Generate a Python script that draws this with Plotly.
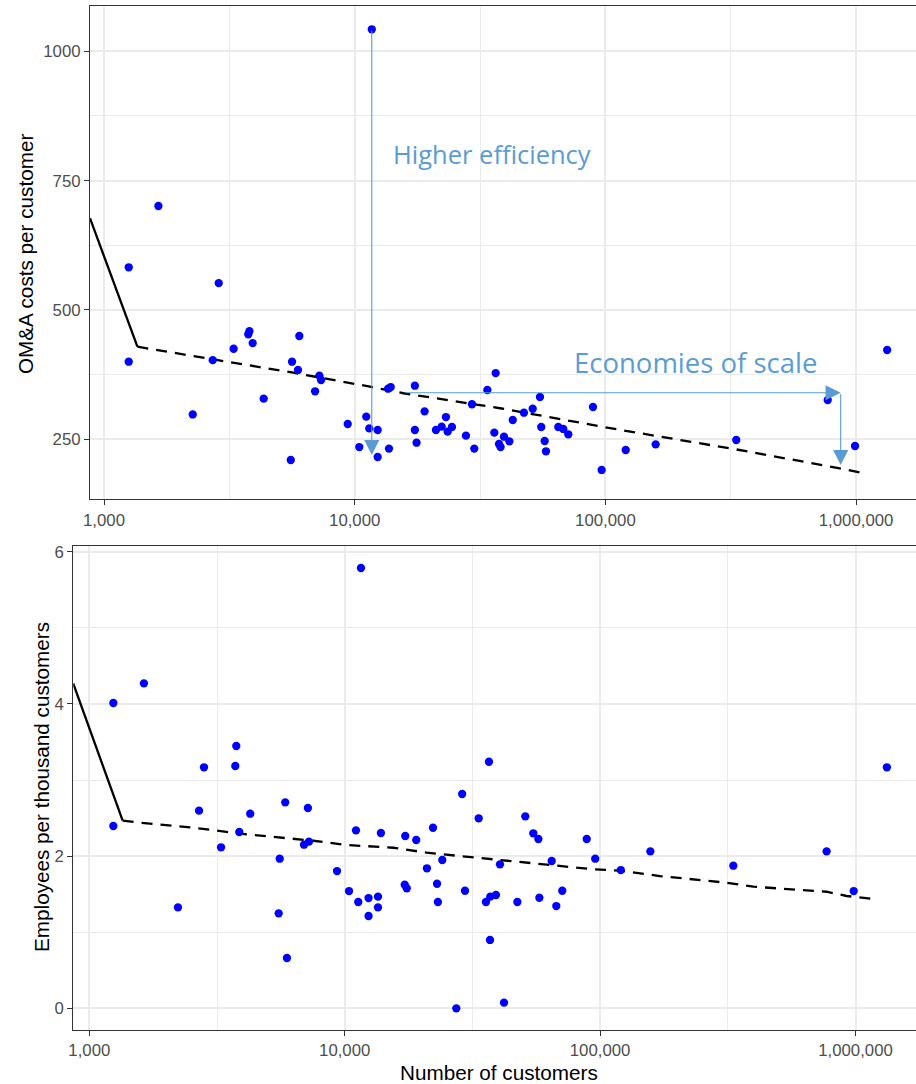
import numpy as np
import plotly.graph_objects as go

# ---------------- Data ----------------
# Top panel: OM&A costs per customer
top_customers = [1255, 1255, 1648, 2259, 2714, 2868, 3289, 3763, 3802, 3918,
                 4335, 5559, 5624, 5940, 6013, 6950, 7228, 7343, 9380, 10430,
                 11120, 11430, 11700, 12350, 12350, 13590, 13700, 13920, 17380, 17380,
                 17650, 19000, 21090, 22230, 23120, 23480, 24430, 27780, 29370, 29990,
                 33820, 36050, 36500, 37640, 38190, 39400, 41400, 42700, 47320, 51290,
                 54830, 55480, 57250, 57930, 64880, 67920, 71120, 89230, 96600, 120500,
                 158700, 332600, 770500, 990000, 1330000]
top_costs = [582.5, 400, 701, 298, 403, 552, 425, 453, 459, 436,
             328.5, 210, 400, 384, 449.7, 342.8, 373, 364.6, 279.6, 235,
             293.7, 271, 1042.6, 268, 215.8, 347.8, 232, 351, 353.6, 268,
             243.4, 304, 268, 274.4, 293, 264.7, 273.8, 257, 317.7, 232,
             345.3, 262.8, 378, 241, 235, 255, 246, 287.3, 301.4, 309,
             331.8, 273.8, 246.7, 226.8, 273.8, 270, 259.7, 312.4, 190.7, 229.3,
             240.3, 248.6, 326, 237, 422.6]

# Bottom panel: employees per thousand customers
bot_customers = [1242, 1242, 1636, 2224, 2689, 2812, 3280, 3730, 3763, 3866,
                 4266, 5514, 5566, 5850, 5941, 6929, 7176, 7245, 9330, 10400,
                 11070, 11300, 11580, 12400, 12400, 13500, 13500, 13860, 17180, 17260,
                 17500, 19060, 20990, 22170, 22990, 23170, 24110, 27350, 28840, 29580,
                 33470, 35730, 36720, 37060, 37150, 39100, 40540, 42050, 47430, 50950,
                 54760, 57330, 57840, 64640, 67380, 71100, 88630, 95700, 120500, 157300,
                 332400, 770800, 984000, 1327000]
bot_employees = [4.012, 2.396, 4.27, 1.327, 2.597, 3.167, 2.116, 3.184, 3.447, 2.317,
                 2.557, 1.248, 1.966, 2.707, 0.661, 2.15, 2.632, 2.19, 1.804, 1.541,
                 2.339, 1.397, 5.786, 1.449, 1.213, 1.467, 1.327, 2.304, 1.624, 2.264,
                 1.577, 2.212, 1.84, 2.373, 1.637, 1.397, 1.949, 0.0, 2.816, 1.545,
                 2.497, 1.397, 3.24, 0.898, 1.467, 1.489, 1.892, 0.074, 1.397, 2.523,
                 2.3, 2.225, 1.453, 1.936, 1.344, 1.545, 2.225, 1.966, 1.817, 2.063,
                 1.874, 2.063, 1.541, 3.167]

# Fitted lines (solid below break, dashed above)
top_solid_x = [879, 1359]
top_solid_y = [677.5, 429]
top_dash_x = [1359, 2993, 5690, 11510, 15630, 38000, 95000, 111000, 330000, 860000, 1101000]
top_dash_y = [429, 401.4, 378.7, 351.7, 339, 310, 274.4, 269.3, 230.7, 194, 183]

bot_solid_x = [865, 1351]
bot_solid_y = [4.27, 2.465]
bot_dash_x = [1351, 1579, 2478, 3346, 4130, 7535, 10190, 15490, 20940, 40550, 63700,
              94100, 119700, 171600, 313300, 398600, 770400, 923800, 1211000]
bot_dash_y = [2.465, 2.439, 2.378, 2.32, 2.286, 2.202, 2.146, 2.11, 2.045, 1.949, 1.883,
              1.827, 1.808, 1.738, 1.65, 1.598, 1.532, 1.476, 1.432]

x_tickvals = [1000, 10000, 100000, 1000000]
x_ticktext = ["1,000", "10,000", "100,000", "1,000,000"]
x_minor = [3162.28, 31622.8, 316228]
top_yticks = [250, 500, 750, 1000]
top_yminor = [375, 625, 875]
bot_yticks = [0, 2, 4, 6]
bot_yminor = [1, 3, 5]

# Annotation anchors (data space)
eff_x, eff_top, eff_tip = 11700, 1042.6, 219.6
eos_x0, eos_y, eos_x1, eos_tip = 15730, 340, 868000, 200.3
eff_label = ("Higher efficiency", 13950, 801.5)
eos_label = ("Economies of scale", 73800, 397.5)

# ---------------- Styles ----------------
W, H = 916, 1084
BLUE = "#0000FF"
ANN = "#5B9BD5"
GRID = "#EBEBEB"
AXC = "#333333"
TICKC = "#4D4D4D"
FONT = "Liberation Sans, Arial, sans-serif"
ANNFONT = "Open Sans, sans-serif"

fig = go.Figure()

def add_panel(xa, ya, cx, cy, sx, sy, dx, dy):
    fig.add_trace(go.Scatter(x=sx, y=sy, mode="lines", xaxis=xa, yaxis=ya,
                             line=dict(color="black", width=2.3), hoverinfo="skip"))
    fig.add_trace(go.Scatter(x=dx, y=dy, mode="lines", xaxis=xa, yaxis=ya,
                             line=dict(color="black", width=2.3, dash="11px,8px"), hoverinfo="skip"))
    fig.add_trace(go.Scatter(x=cx, y=cy, mode="markers", xaxis=xa, yaxis=ya,
                             marker=dict(color=BLUE, size=8.3, line=dict(width=0))))

add_panel("x", "y", top_customers, top_costs, top_solid_x, top_solid_y, top_dash_x, top_dash_y)
add_panel("x2", "y2", bot_customers, bot_employees, bot_solid_x, bot_solid_y, bot_dash_x, bot_dash_y)

def xaxis_cfg(domain, rng, anchor):
    return dict(type="log", domain=domain, range=rng, anchor=anchor, automargin=False,
                tickvals=x_tickvals, ticktext=x_ticktext,
                showgrid=True, gridcolor=GRID, gridwidth=1.5,
                minor=dict(tickvals=x_minor, showgrid=True, gridcolor=GRID, gridwidth=0.9, ticks=""),
                showline=True, linecolor=AXC, linewidth=1.1, mirror=True,
                ticks="outside", ticklen=5, tickwidth=1.1, tickcolor=AXC,
                tickfont=dict(family=FONT, size=16.8, color=TICKC), zeroline=False)

def yaxis_cfg(domain, rng, anchor, tv, minor):
    return dict(domain=domain, range=rng, anchor=anchor, automargin=False,
                tickvals=tv, ticktext=[str(v) for v in tv],
                showgrid=True, gridcolor=GRID, gridwidth=1.5,
                minor=dict(tickvals=minor, showgrid=True, gridcolor=GRID, gridwidth=0.9, ticks=""),
                showline=True, linecolor=AXC, linewidth=1.1, mirror=False,
                ticks="outside", ticklen=5, tickwidth=1.1, tickcolor=AXC,
                tickfont=dict(family=FONT, size=16.8, color=TICKC), zeroline=False)

top_dom_x = [90 / W, 1.0]
top_dom_y = [1 - 499.3 / H, 1 - 6 / H]
bot_dom_x = [73.3 / W, 1.0]
bot_dom_y = [1 - 1030 / H, 1 - 545.7 / H]

fig.update_layout(
    width=W, height=H, margin=dict(l=0, r=0, t=0, b=0, pad=0, autoexpand=False),
    paper_bgcolor="white", plot_bgcolor="white", showlegend=False,
    xaxis=xaxis_cfg(top_dom_x, [2.94416, 6.23893], "y"),
    yaxis=yaxis_cfg(top_dom_y, [134.0, 1087.6], "x", top_yticks, top_yminor),
    xaxis2=xaxis_cfg(bot_dom_x, [2.93735, 6.2369], "y2"),
    yaxis2=yaxis_cfg(bot_dom_y, [-0.285, 6.079], "x2", bot_yticks, bot_yminor),
)

L = np.log10
arrow_common = dict(text="", showarrow=True, arrowhead=2, arrowsize=2.75, arrowwidth=1.1,
                    arrowcolor=ANN, standoff=0, xref="x", yref="y", axref="x", ayref="y")
annotations = [
    dict(x=L(eff_x), y=eff_tip, ax=L(eff_x), ay=eff_top, **arrow_common),
    dict(x=L(eos_x1), y=eos_y, ax=L(eos_x0), ay=eos_y, **arrow_common),
    dict(x=L(eos_x1), y=eos_tip, ax=L(eos_x1), ay=eos_y, **arrow_common),
    dict(text=eff_label[0], x=L(eff_label[1]), y=eff_label[2], xref="x", yref="y",
         showarrow=False, xanchor="left", yanchor="middle",
         font=dict(family=ANNFONT, size=25.5, color=ANN)),
    dict(text=eos_label[0], x=L(eos_label[1]), y=eos_label[2], xref="x", yref="y",
         showarrow=False, xanchor="left", yanchor="middle",
         font=dict(family=ANNFONT, size=27.5, color=ANN)),
    dict(text="OM&A costs per customer", x=25 / W, y=1 - 254 / H, xref="paper", yref="paper",
         showarrow=False, textangle=-90, xanchor="center", yanchor="middle",
         font=dict(family=FONT, size=20.7, color="black")),
    dict(text="Employees per thousand customers", x=41 / W, y=1 - 787 / H, xref="paper", yref="paper",
         showarrow=False, textangle=-90, xanchor="center", yanchor="middle",
         font=dict(family=FONT, size=20.7, color="black")),
    dict(text="Number of customers", x=499 / W, y=1 - 1072 / H, xref="paper", yref="paper",
         showarrow=False, xanchor="center", yanchor="middle",
         font=dict(family=FONT, size=20.7, color="black")),
]
fig.update_layout(annotations=annotations)

fig.write_html("out.html", config={"displayModeBar": False},
               post_script="document.body.style.margin='0';document.body.style.overflow='hidden';")
